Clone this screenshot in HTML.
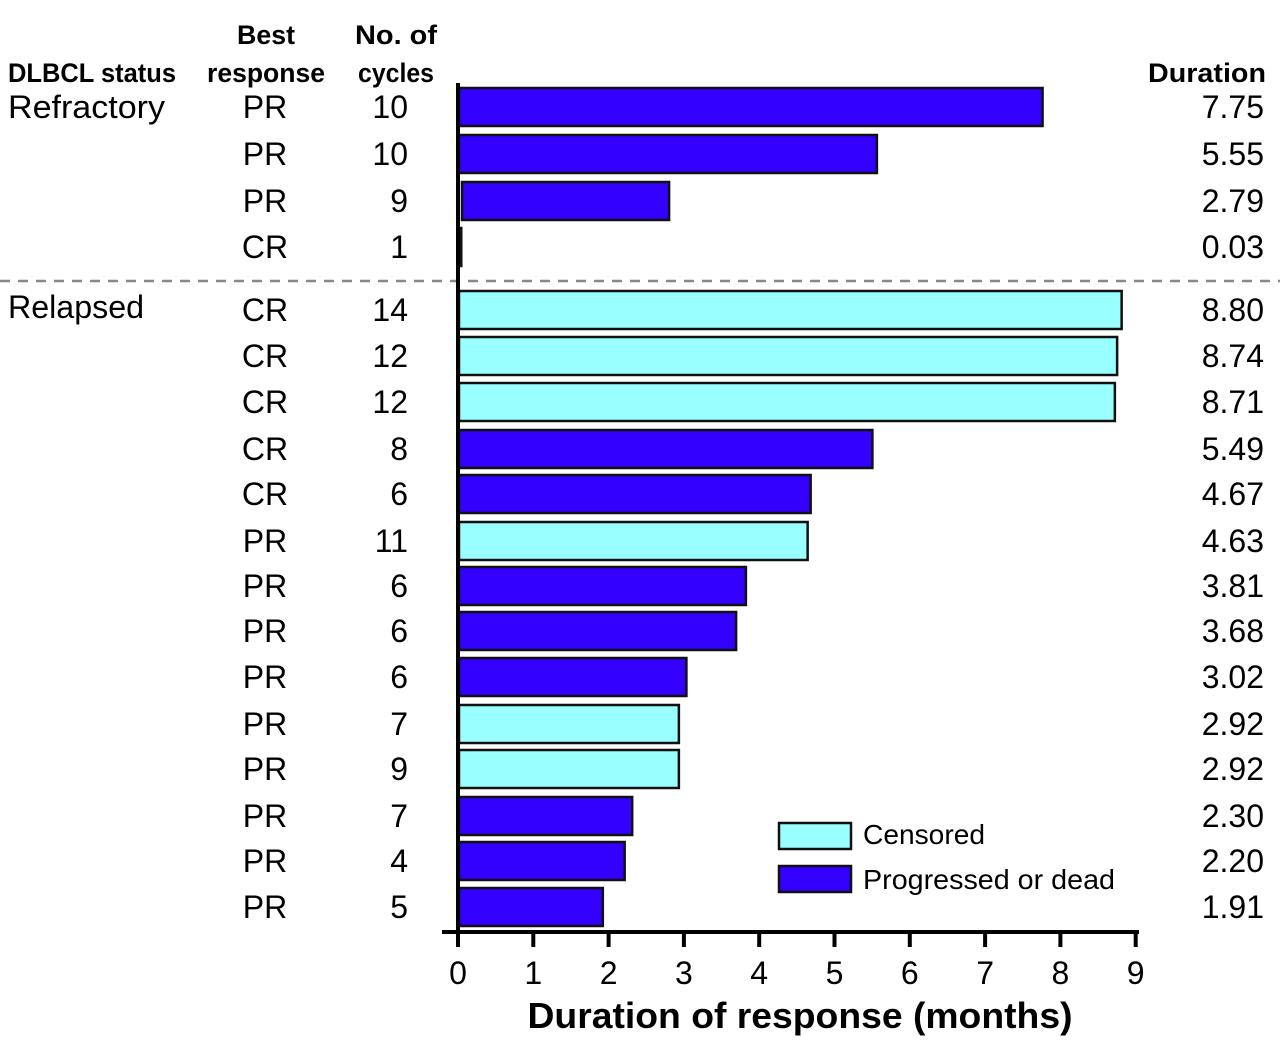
<!DOCTYPE html>
<html><head><meta charset="utf-8"><style>body{margin:0;background:#fff}svg{display:block}text{font-family:"Liberation Sans",sans-serif}</style></head><body>
<svg width="1280" height="1052" xmlns="http://www.w3.org/2000/svg">
<g font-weight="bold" font-size="27" fill="#000">
<text x="8" y="82" textLength="168" lengthAdjust="spacingAndGlyphs">DLBCL status</text>
<text x="266" y="44" text-anchor="middle" textLength="58" lengthAdjust="spacingAndGlyphs">Best</text>
<text x="266" y="82" text-anchor="middle" textLength="118" lengthAdjust="spacingAndGlyphs">response</text>
<text x="396" y="44" text-anchor="middle" textLength="82" lengthAdjust="spacingAndGlyphs">No. of</text>
<text x="396" y="82" text-anchor="middle" textLength="76" lengthAdjust="spacingAndGlyphs">cycles</text>
<text x="1266" y="82" text-anchor="end" textLength="118" lengthAdjust="spacingAndGlyphs">Duration</text>
</g>
<g font-size="32" fill="#000">
<text x="8" y="118" textLength="157" lengthAdjust="spacingAndGlyphs">Refractory</text>
<text x="8" y="318" textLength="136" lengthAdjust="spacingAndGlyphs">Relapsed</text>
</g>
<line x1="0" y1="281" x2="1280" y2="281" stroke="#888" stroke-width="2.5" stroke-dasharray="10,8"/>
<g id="bars" stroke="#111" stroke-width="2.5"></g>
<g id="labels" font-size="32" fill="#000"></g>
<line x1="458" y1="83" x2="458" y2="934" stroke="#000" stroke-width="4"/>
<line x1="442" y1="932" x2="1139" y2="932" stroke="#000" stroke-width="4"/>
<g id="ticks" stroke="#000" stroke-width="4"></g>
<g id="tl" font-size="32" fill="#000" text-anchor="middle"></g>
<text x="800" y="1028" font-size="36" font-weight="bold" text-anchor="middle" textLength="545" lengthAdjust="spacingAndGlyphs">Duration of response (months)</text>
<rect x="779" y="823" width="72" height="26" fill="#99ffff" stroke="#111" stroke-width="2.5"/>
<rect x="779" y="866" width="72" height="26" fill="#3300ff" stroke="#111" stroke-width="2.5"/>
<text x="863" y="844" font-size="28" textLength="122" lengthAdjust="spacingAndGlyphs">Censored</text>
<text x="863" y="889" font-size="28" textLength="252" lengthAdjust="spacingAndGlyphs">Progressed or dead</text>
<script>
var rows=[[107,"PR",10,7.75,0],[154,"PR",10,5.55,0],[201,"PR",9,2.79,0],[247,"CR",1,0.03,0],
[310,"CR",14,8.80,1],[356,"CR",12,8.74,1],[402,"CR",12,8.71,1],[449,"CR",8,5.49,0],[494,"CR",6,4.67,0],[541,"PR",11,4.63,1],[586,"PR",6,3.81,0],[631,"PR",6,3.68,0],[677,"PR",6,3.02,0],[724,"PR",7,2.92,1],[769,"PR",9,2.92,1],[816,"PR",7,2.30,0],[861,"PR",4,2.20,0],[907,"PR",5,1.91,0]];
var ns="http://www.w3.org/2000/svg",b=document.getElementById("bars"),l=document.getElementById("labels");
function el(p,t,a,txt){var e=document.createElementNS(ns,t);for(var k in a)e.setAttribute(k,a[k]);if(txt!==undefined)e.textContent=txt;p.appendChild(e);return e;}
var s=75.3,x0=459;
rows.forEach(function(r){var w=Math.max(r[3]*s,2);var x=r[2]==9&&r[3]==2.79?462:x0;
el(b,"rect",{x:x,y:r[0]-19,width:w-(x-x0),height:38,fill:r[4]?"#99ffff":"#3300ff"});
el(l,"text",{x:265,y:r[0]+11,"text-anchor":"middle"},r[1]);
el(l,"text",{x:408,y:r[0]+11,"text-anchor":"end"},r[2]);
el(l,"text",{x:1264,y:r[0]+11,"text-anchor":"end"},r[3].toFixed(2));});
var t=document.getElementById("ticks"),tl=document.getElementById("tl");
for(var i=0;i<=9;i++){var x=458+i*75.3;el(t,"line",{x1:x,y1:932,x2:x,y2:947});el(tl,"text",{x:x,y:984},i);}
</script>
</svg>
</body></html>
